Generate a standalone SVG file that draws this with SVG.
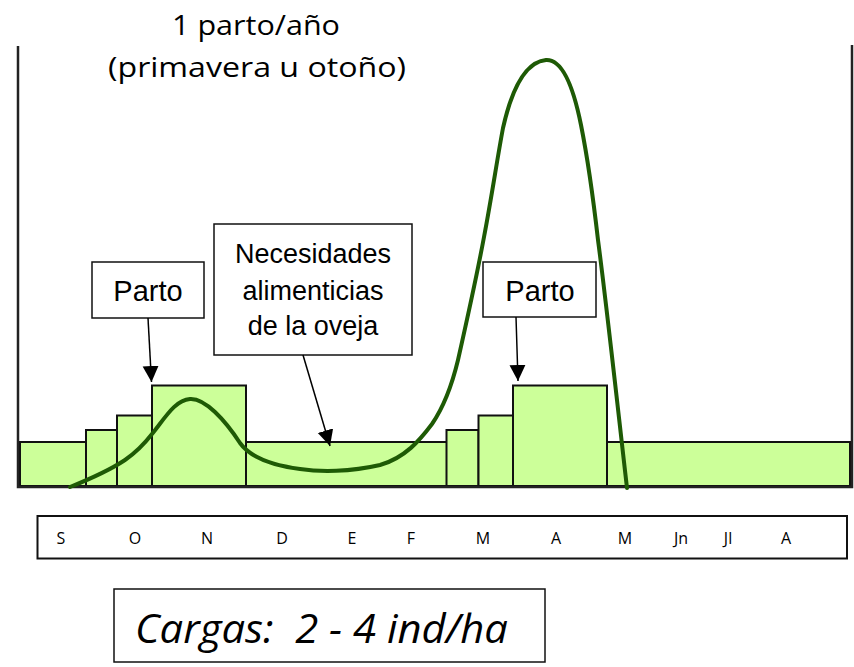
<svg xmlns="http://www.w3.org/2000/svg" width="854" height="667" viewBox="0 0 854 667">
<defs>
<style>
.bar{fill:#CCFF99;stroke:#111;stroke-width:2}
.box{fill:#fff;stroke:#111;stroke-width:1.5}
.ax{stroke:#222;stroke-width:2.5;fill:none}
.t{font-family:"Liberation Sans",Arial,sans-serif;fill:#000}
.h{font-family:"Open Sans","Liberation Sans",sans-serif;fill:#000}
.m{font-family:"Open Sans","Liberation Sans",sans-serif;font-size:16px;text-anchor:middle;fill:#000}
.arr{stroke:#000;stroke-width:1.5;fill:none}
.curve{fill:none;stroke:#1E5A05;stroke-width:4;stroke-linecap:round}
</style>
<marker id="ah" markerUnits="userSpaceOnUse" markerWidth="17" markerHeight="17" refX="16" refY="8" orient="auto">
<path d="M0,0 L16,8 L0,16 z" fill="#000"/>
</marker>
</defs>
<rect width="854" height="667" fill="#fff"/>

<g id="title">
<text class="h" x="256" y="35" font-size="28" text-anchor="middle" textLength="168" lengthAdjust="spacingAndGlyphs">1 parto/año</text>
<text class="h" x="257" y="77" font-size="28" text-anchor="middle" textLength="298" lengthAdjust="spacingAndGlyphs">(primavera u otoño)</text>
</g>

<g id="chart">
<rect class="bar" x="20" y="442" width="830" height="44"/>
<rect class="bar" x="86" y="430" width="31" height="56"/>
<rect class="bar" x="117" y="415.5" width="35" height="70.5"/>
<rect class="bar" x="152" y="385.5" width="94" height="100.5"/>
<rect class="bar" x="446.5" y="430" width="32" height="56"/>
<rect class="bar" x="478.5" y="415.5" width="34.5" height="70.5"/>
<rect class="bar" x="513" y="385.5" width="94" height="100.5"/>
<path class="ax" d="M18,46 L18,487 L852,487 L852,45"/>
</g>

<g id="curve">
<path class="curve" d="M70,487 C95,477 110,470 125,460 C138,451 145,443 152,434 C165,418 175,400 190,399 C205,398 225,420 240,443 C250,457 270,465 300,469 C320,472 350,472 380,465 C405,458 420,440 432,424 C445,405 452,385 458,360 C467,320 476,280 484,237 C492,195 497,160 503,128 C512,88 525,62 546,60 C563,59 574,90 581,125 C589,165 594,205 598,240 C606,300 618,410 627,488"/>
</g>

<g id="parto1">
<rect class="box" x="92" y="262" width="112" height="56"/>
<text class="t" x="148" y="301" font-size="29" text-anchor="middle">Parto</text>
</g>

<g id="parto2">
<rect class="box" x="483" y="262" width="113" height="55"/>
<text class="t" x="540" y="301" font-size="29" text-anchor="middle">Parto</text>
</g>

<g id="necesidades">
<rect class="box" x="214" y="224" width="198" height="131"/>
<text class="t" x="313" y="263" font-size="27" text-anchor="middle">Necesidades</text>
<text class="t" x="313" y="300" font-size="27" text-anchor="middle">alimenticias</text>
<text class="t" x="313" y="335" font-size="27" text-anchor="middle">de la oveja</text>
</g>

<g id="connectors">
<line class="arr" x1="148" y1="318" x2="151.5" y2="382" marker-end="url(#ah)"/>
<line class="arr" x1="516" y1="317" x2="518" y2="381" marker-end="url(#ah)"/>
<line class="arr" x1="303" y1="355" x2="330" y2="446" marker-end="url(#ah)"/>
</g>

<g id="months">
<rect x="37.5" y="516" width="809.5" height="42.5" fill="#fff" stroke="#111" stroke-width="2"/>
<text class="m" x="61" y="544">S</text>
<text class="m" x="135" y="544">O</text>
<text class="m" x="207" y="544">N</text>
<text class="m" x="282" y="544">D</text>
<text class="m" x="352" y="544">E</text>
<text class="m" x="411" y="544">F</text>
<text class="m" x="483" y="544">M</text>
<text class="m" x="556" y="544">A</text>
<text class="m" x="625" y="544">M</text>
<text class="m" x="681" y="544">Jn</text>
<text class="m" x="728" y="544">Jl</text>
<text class="m" x="786" y="544">A</text>
</g>

<g id="cargas">
<rect class="box" x="114" y="589" width="431" height="73"/>
<text class="h" x="135" y="643" font-size="40" font-style="italic" xml:space="preserve" textLength="373" lengthAdjust="spacingAndGlyphs">Cargas:  2 - 4 ind/ha</text>
</g>
</svg>
